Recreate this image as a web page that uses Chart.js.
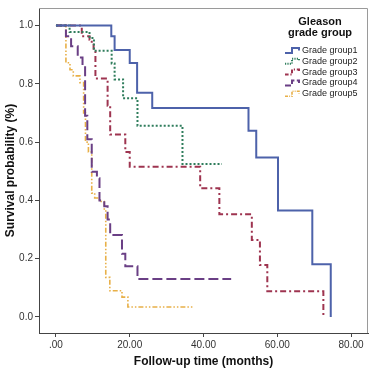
<!DOCTYPE html>
<html><head><meta charset="utf-8">
<script src="https://cdn.jsdelivr.net/npm/chart.js@4/dist/chart.umd.min.js"></script>
<style>html,body{margin:0;padding:0;background:#fff;}#wrap{width:374px;height:372px;}</style>
</head><body><div id="wrap"><canvas id="c" width="374" height="372"></canvas></div>
<script>
const seriesLabels = ["Grade group1","Grade group2","Grade group3","Grade group4","Grade group5"];
const g1Time = [0, 15, 15.9, 20, 22, 26.1, 52.2, 54.3, 60.2, 69.5, 74.5];
const g1Surv = [1, 0.963, 0.916, 0.871, 0.769, 0.717, 0.639, 0.547, 0.365, 0.181, 0];
const g2Time = [0, 3.7, 9.1, 10.3, 15.1, 15.9, 18.2, 22.1, 34.3, 45];
const g2Surv = [1, 0.978, 0.957, 0.913, 0.87, 0.815, 0.75, 0.656, 0.525, 0.525];
const g3Time = [0, 7, 9.1, 9.7, 10.2, 10.7, 14, 14.7, 18.8, 20, 39.1, 44.3, 53.1, 55.3, 57.3, 72.5];
const g3Surv = [1, 0.963, 0.951, 0.937, 0.912, 0.818, 0.725, 0.626, 0.566, 0.515, 0.442, 0.352, 0.264, 0.178, 0.088, 0];
const g4Time = [0, 2.7, 4.1, 5.9, 7.2, 7.9, 8.5, 9.7, 11.1, 11.8, 13.1, 14, 14.7, 17.9, 18.8, 22.1, 47.5];
const g4Surv = [1, 0.963, 0.929, 0.89, 0.86, 0.69, 0.61, 0.498, 0.476, 0.40, 0.38, 0.334, 0.281, 0.217, 0.174, 0.13, 0.13];
const g5Time = [0, 2.7, 3.8, 4.7, 6.5, 7.5, 8.0, 8.8, 9.7, 10.5, 11.8, 13.1, 13.5, 14.6, 17.9, 19.5, 37.3];
const g5Surv = [1, 0.872, 0.848, 0.827, 0.804, 0.7, 0.6, 0.566, 0.425, 0.408, 0.396, 0.368, 0.136, 0.09, 0.068, 0.034, 0.034];
const xTicks = [0, 20, 40, 60, 80];
const xTickLabels = [".00", "20.00", "40.00", "60.00", "80.00"];
const yTicks = [0, 0.2, 0.4, 0.6, 0.8, 1.0];
const yTickLabels = ["0.0", "0.2", "0.4", "0.6", "0.8", "1.0"];

const times = [g1Time, g2Time, g3Time, g4Time, g5Time];
const survs = [g1Surv, g2Surv, g3Surv, g4Surv, g5Surv];
const colors = ["#4d62aa", "#2f7d5c", "#9e3450", "#6a3f85", "#e8b048"];
const dashes = [[], [2, 2], [6, 3, 2, 3], [10, 4], [5, 2, 1.5, 2, 1.5, 2]];
const widths = [2, 2, 2, 2, 1.6];
const FONT = '"Liberation Sans", Arial, sans-serif';

const datasets = seriesLabels.map((lab, i) => ({
  label: lab,
  data: times[i].map((t, j) => ({x: t, y: survs[i][j]})),
  showLine: true, stepped: true, pointRadius: 0,
  borderColor: colors[i], backgroundColor: colors[i],
  borderWidth: widths[i], borderDash: dashes[i], fill: false
}));

const framePlugin = {
  id: 'frame',
  beforeDatasetsDraw(chart) {
    const a = chart.chartArea, ctx = chart.ctx;
    ctx.save();
    ctx.strokeStyle = '#9a9a9a'; ctx.lineWidth = 1;
    ctx.beginPath();
    ctx.moveTo(a.left, a.top + 0.5); ctx.lineTo(a.right - 0.5, a.top + 0.5); ctx.lineTo(a.right - 0.5, a.bottom);
    ctx.stroke();
    ctx.restore();
  }
};

const legendPlugin = {
  id: 'kmLegend',
  afterDatasetsDraw(chart) {
    const ctx = chart.ctx;
    ctx.save();
    ctx.fillStyle = '#111';
    ctx.font = 'bold 11px ' + FONT;
    ctx.textAlign = 'center'; ctx.textBaseline = 'middle';
    ctx.fillText('Gleason', 320, 22);
    ctx.fillText('grade group', 320, 32.5);
    ctx.font = '9px ' + FONT;
    ctx.textAlign = 'left';
    chart.data.datasets.forEach((ds, i) => {
      const y = 50.5 + i * 10.8;
      const x0 = 285;
      ctx.strokeStyle = ds.borderColor; ctx.lineWidth = ds.borderWidth;
      ctx.setLineDash(ds.borderDash.length ? ds.borderDash.map(v => v * 0.6) : []);
      ctx.beginPath();
      ctx.moveTo(x0, y + 2.5); ctx.lineTo(x0 + 7, y + 2.5); ctx.lineTo(x0 + 7, y - 2.5);
      ctx.lineTo(x0 + 14, y - 2.5); ctx.lineTo(x0 + 14, y);
      ctx.stroke();
      ctx.setLineDash([]);
      ctx.fillStyle = '#222';
      ctx.fillText(ds.label, x0 + 17, y);
    });
    ctx.restore();
  }
};

new Chart(document.getElementById('c'), {
  type: 'scatter',
  data: { datasets },
  options: {
    responsive: false, animation: false, devicePixelRatio: 1,
    layout: { padding: { left: 0, right: 6, top: 5, bottom: 0 } },
    plugins: { legend: { display: false }, tooltip: { enabled: false } },
    scales: {
      x: {
        type: 'linear', min: -4.6, max: 84.6,
        afterBuildTicks: s => { s.ticks = xTicks.map(v => ({value: v})); },
        afterFit: s => { s.height = 39; },
        ticks: { callback: (v) => xTickLabels[xTicks.indexOf(v)], color: '#333', font: { size: 10, family: FONT }, padding: 2, maxRotation: 0 },
        grid: { drawOnChartArea: false, drawTicks: true, tickLength: 4, color: '#444' },
        border: { display: true, color: '#444', width: 1 },
        title: { display: true, text: 'Follow-up time (months)', color: '#111', font: { size: 12, weight: 'bold', family: FONT }, padding: { top: 0, bottom: 3 } }
      },
      y: {
        type: 'linear', min: -0.055, max: 1.06,
        afterBuildTicks: s => { s.ticks = yTicks.map(v => ({value: v})); },
        afterFit: s => { s.width = 39; },
        ticks: { callback: (v) => yTickLabels[yTicks.findIndex(t => Math.abs(t - v) < 1e-9)], color: '#333', font: { size: 10, family: FONT }, padding: 2 },
        grid: { drawOnChartArea: false, drawTicks: true, tickLength: 4, color: '#444' },
        border: { display: true, color: '#444', width: 1 },
        title: { display: true, text: 'Survival probability (%)', color: '#111', font: { size: 12, weight: 'bold', family: FONT }, padding: { top: 3, bottom: 0 } }
      }
    }
  },
  plugins: [framePlugin, legendPlugin]
});
</script>
</body></html>
